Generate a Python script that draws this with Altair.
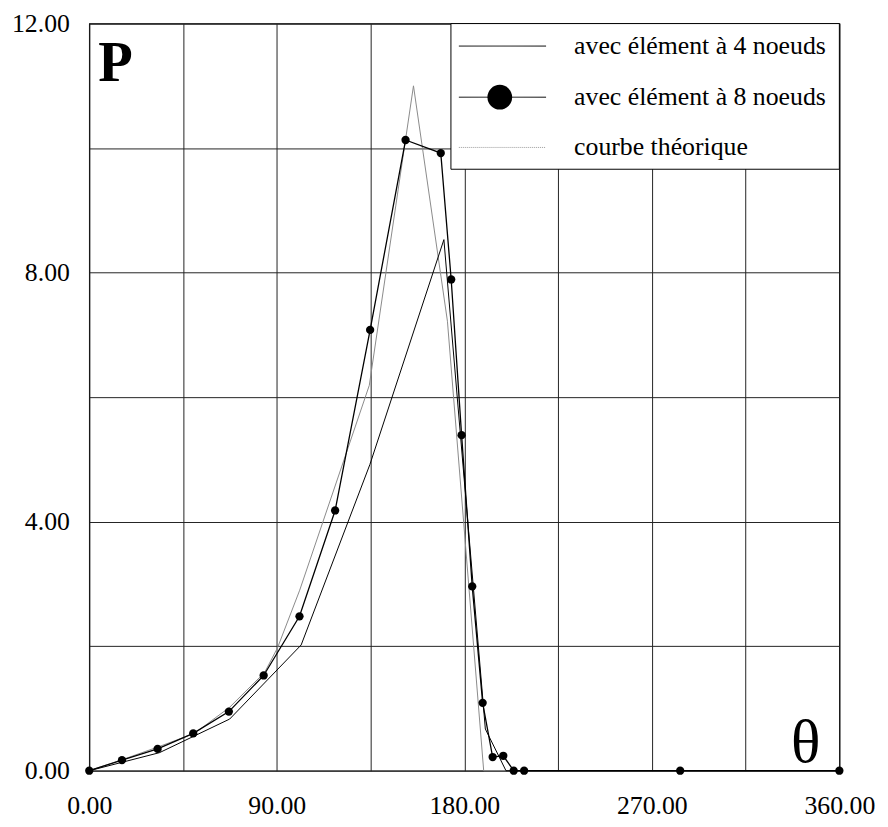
import altair as alt
import pandas as pd

# ---- data ----
theta_8 = [0, 15.7, 32.8, 49.9, 67.0, 83.7, 100.9, 118.0, 134.8, 151.8, 168.7,
           173.7, 178.7, 183.8, 188.8, 193.6, 198.7, 203.7, 208.7, 283.6, 360]
p_8 = [0, 0.17, 0.35, 0.60, 0.95, 1.53, 2.48, 4.18, 7.08, 10.13, 9.92,
       7.89, 5.39, 2.96, 1.09, 0.22, 0.24, 0.0, 0.0, 0.0, 0.0]

theta_4 = [0, 33.7, 67.4, 101.7, 134.7, 170.2, 190.1, 200.0, 360]
p_4 = [0, 0.29, 0.83, 2.02, 4.92, 8.53, 0.67, 0.0, 0.0]

theta_th = [0, 16.9, 33.7, 50.5, 67.4, 84.2, 90.3, 101.0, 134.4, 155.6, 171.9, 189.3, 360]
p_th = [0, 0.19, 0.39, 0.60, 1.02, 1.58, 1.97, 2.90, 6.19, 11.0, 7.22, 0.0, 0.0]

x_ticks = [0, 45, 90, 135, 180, 225, 270, 315, 360]
y_ticks = [0, 2, 4, 6, 8, 10, 12]

legend_labels = ["avec élément à 4 noeuds", "avec élément à 8 noeuds", "courbe théorique"]

FONT = "'Liberation Serif', 'Times New Roman', Times, 'DejaVu Serif', serif"
W, H = 757, 754

df8 = pd.DataFrame({"theta": theta_8, "P": p_8})
df4 = pd.DataFrame({"theta": theta_4, "P": p_4})
dfth = pd.DataFrame({"theta": theta_th, "P": p_th})

axis_style = dict(title=None, grid=True, ticks=False, domain=False,
                  labelFont=FONT, labelFontSize=26, labelColor="black",
                  gridColor="#222", gridWidth=1, gridOpacity=1,
                  labelFlush=False, labelOverlap=False)

xenc = alt.X("theta:Q", scale=alt.Scale(domain=[0, 360], nice=False, zero=False),
             axis=alt.Axis(values=x_ticks,
                           labelExpr="datum.value % 90 == 0 ? format(datum.value, '.2f') : ''",
                           labelPadding=22, **axis_style))
yenc = alt.Y("P:Q", scale=alt.Scale(domain=[0, 12], nice=False),
             axis=alt.Axis(values=y_ticks,
                           labelExpr="datum.value % 4 == 0 ? format(datum.value, '.2f') : ''",
                           labelPadding=20, **axis_style))

th_line = alt.Chart(dfth).mark_line(color="#8a8a8a", strokeWidth=1).encode(x=xenc, y=yenc)
l4 = alt.Chart(df4).mark_line(color="black", strokeWidth=1).encode(x=xenc, y=yenc)
l8 = alt.Chart(df8).mark_line(color="black", strokeWidth=1.3).encode(x=xenc, y=yenc)
p8 = alt.Chart(df8).mark_circle(color="black", opacity=1, size=70).encode(x=xenc, y=yenc)

one = pd.DataFrame({"a": [0]})

# legend box
leg_box = alt.Chart(one).mark_rect(fill="white", stroke="black", strokeWidth=1).encode(
    x=alt.value(365), x2=alt.value(W), y=alt.value(0), y2=alt.value(147))

leg_rows_y = [22.7, 74.3, 125]
leg_colors = ["black", "black", "#9a9a9a"]
leg_layers = [leg_box]
for i, lab in enumerate(legend_labels):
    yy = leg_rows_y[i]
    rule = alt.Chart(one).mark_rule(color=leg_colors[i], strokeWidth=1,
                                    strokeDash=[1, 1] if i == 2 else [1, 0]).encode(
        x=alt.value(373), x2=alt.value(461), y=alt.value(yy))
    leg_layers.append(rule)
    if i == 1:
        leg_layers.append(alt.Chart(one).mark_circle(color="black", opacity=1, size=620).encode(
            x=alt.value(414.3), y=alt.value(yy)))
    leg_layers.append(alt.Chart(one).mark_text(align="left", baseline="middle", font=FONT,
                                               fontSize=26, color="black").encode(
        x=alt.value(489.3), y=alt.value(yy), text=alt.value(lab)))

p_label = alt.Chart(one).mark_text(align="left", baseline="alphabetic", font=FONT,
                                   fontSize=57, fontWeight="bold", color="black").encode(
    x=alt.value(9), y=alt.value(58), text=alt.value("P"))
theta_label = alt.Chart(one).mark_text(align="center", baseline="alphabetic", font=FONT,
                                       fontSize=62, color="black").encode(
    x=alt.value(723), y=alt.value(745), text=alt.value("θ"))

chart = alt.layer(th_line, l4, l8, p8, *leg_layers, p_label, theta_label).properties(
    width=W, height=H,
    background="white",
    autosize=alt.AutoSizeParams(type="none"),
    padding={"left": 82, "top": 12, "right": 41, "bottom": 45},
).configure_view(stroke="black", strokeWidth=1.2)

chart.save("out.html", embed_options={"renderer": "svg", "actions": False})
